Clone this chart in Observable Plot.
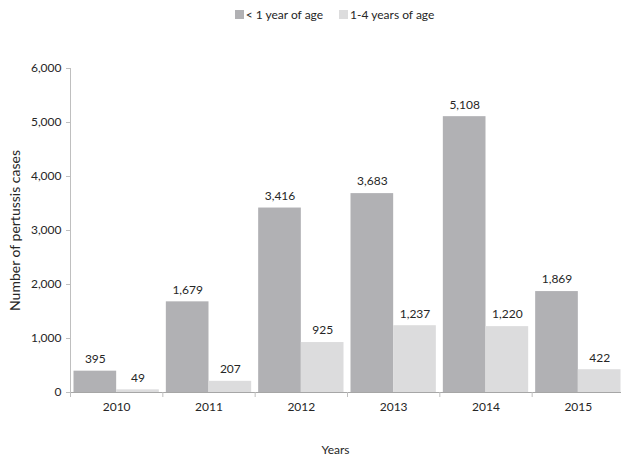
<!DOCTYPE html>
<html>
<head>
<meta charset="utf-8">
<script src="https://cdn.jsdelivr.net/npm/d3@7"></script>
<script src="https://cdn.jsdelivr.net/npm/@observablehq/plot@0.6"></script>
<style>
  body { margin: 0; background: #fff; font-family: Lato, "Open Sans", sans-serif; }
  #wrap { width: 621px; position: relative; }
  #legend { height: 28px; display: flex; justify-content: center; align-items: center; font-size: 12px; color: #262626; padding-left: 48px; box-sizing: border-box; }
  .item { display: flex; align-items: center; margin: 0 8px; }
  .sw { width: 9px; height: 9px; margin-right: 2px; }
  svg { display: block; overflow: visible; }
</style>
</head>
<body>
<div id="wrap">
  <div id="legend"></div>
  <div id="chart"></div>
</div>
<script>
const years = [2010, 2011, 2012, 2013, 2014, 2015];
const under1 = [395, 1679, 3416, 3683, 5108, 1869];
const oneToFour = [49, 207, 925, 1237, 1220, 422];
const seriesNames = ["< 1 year of age", "1-4 years of age"];
const seriesColors = ["#b1b1b4", "#dcdcdd"];
const yTicks = [0, 1000, 2000, 3000, 4000, 5000, 6000];

const dataA = years.map((y, i) => ({year: y, value: under1[i]}));
const dataB = years.map((y, i) => ({year: y, value: oneToFour[i]}));

const width = 621, height = 436;
const marginLeft = 70, marginRight = -3;
const bw = (width - marginLeft - marginRight) / years.length;
const half = bw / 2;
const pad = 3.5;
const off = (half - pad) / 2 + pad - half; // center offset of each bar from band center

const legend = document.getElementById("legend");
seriesNames.forEach((n, i) => {
  const it = document.createElement("div");
  it.className = "item";
  it.innerHTML = `<span class="sw" style="background:${seriesColors[i]}"></span><span>${n}</span>`;
  legend.appendChild(it);
});

const chart = Plot.plot({
  width, height,
  marginLeft, marginRight,
  marginTop: 40, marginBottom: 72,
  style: {fontFamily: "Lato, 'Open Sans', sans-serif", fontSize: "12px", color: "#404040", background: "#fff"},
  x: {domain: [years[0], years[years.length - 1] + 1]},
  y: {domain: [0, 6000]},
  marks: [
    Plot.rectY(dataA, {x: "year", interval: 1, y: "value", fill: seriesColors[0], insetLeft: pad, insetRight: half}),
    Plot.rectY(dataB, {x: "year", interval: 1, y: "value", fill: seriesColors[1], insetLeft: half, insetRight: pad}),
    Plot.text(dataA, {x: d => d.year + 0.5, y: "value", text: d => d3.format(",")(d.value), dx: off, dy: -12, fill: "#262626", fontSize: 12}),
    Plot.text(dataB, {x: d => d.year + 0.5, y: "value", text: d => d3.format(",")(d.value), dx: -off, dy: -12, fill: "#262626", fontSize: 12}),
    Plot.ruleX([years[0]], {stroke: "#bfbfbf"}),
    Plot.ruleY([0], {stroke: "#a6a6a6"}),
    Plot.axisY({ticks: yTicks, tickFormat: d3.format(","), tickSize: 4, tickPadding: 5, stroke: "#bfbfbf", fill: "#262626", label: null, fontSize: 12}),
    Plot.text(["Number of pertussis cases"], {frameAnchor: "left", textAnchor: "middle", rotate: -90, dx: -55, fill: "#262626", fontSize: 14}),
    Plot.axisX({ticks: [...years, years[years.length - 1] + 1], tickFormat: () => "", tickSize: 5, stroke: "#bfbfbf", label: null}),
    Plot.axisX({ticks: years.map(y => y + 0.5), tickFormat: d => String(Math.floor(d)), tickSize: 0, tickPadding: 10, fill: "#262626", label: null}),
    Plot.text(["Years"], {frameAnchor: "bottom", dy: 61, dx: -12, fill: "#262626", fontSize: 12})
  ]
});
document.getElementById("chart").appendChild(chart);
</script>
</body>
</html>
